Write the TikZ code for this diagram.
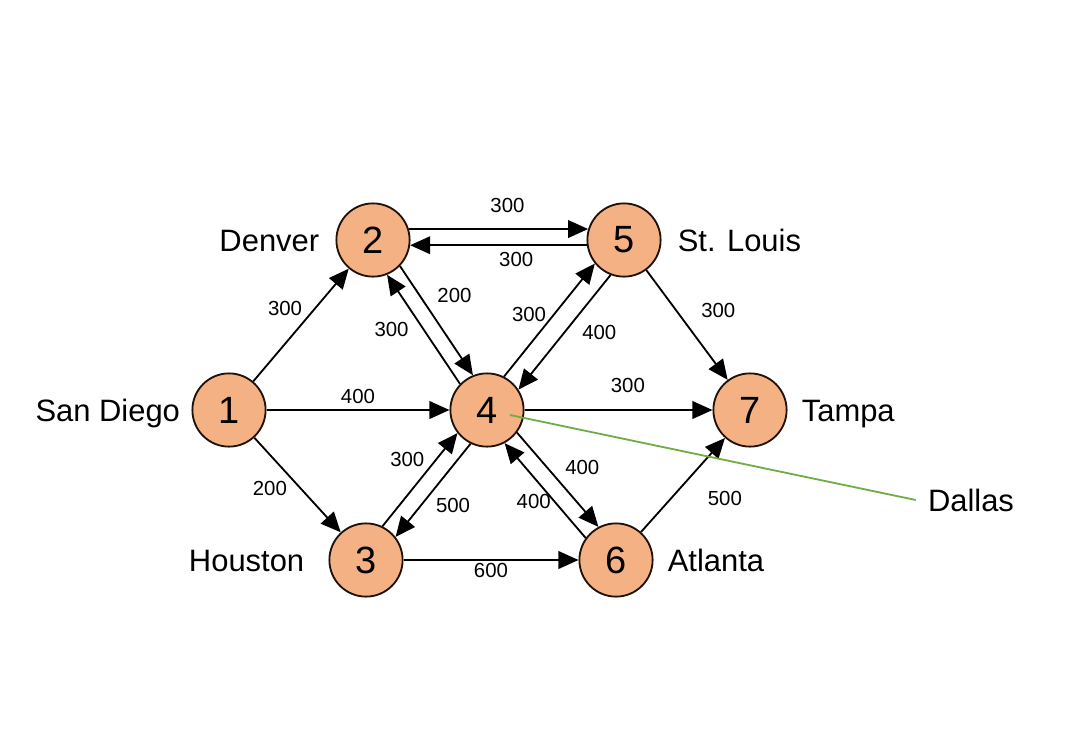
\documentclass[tikz,border=0pt]{standalone}
\usepackage{fontspec}
\setmainfont{Liberation Sans}
\usetikzlibrary{arrows.meta,positioning}
\definecolor{cityFill}{RGB}{244,177,131}
\definecolor{cityEdge}{RGB}{30,18,10}
\definecolor{pinGreen}{RGB}{112,173,71}
\tikzset{
  citynode/.style={
    circle, draw=cityEdge, line width=1.3pt, fill=cityFill,
    minimum size=1.83cm, inner sep=0pt, font=\fontsize{27}{30}\selectfont},
  cityname/.style={
    inner sep=0pt, text height=16pt, text depth=0pt,
    font=\fontsize{22}{26}\selectfont},
  wt/.style={inner sep=2pt, font=\fontsize{14.5}{17}\selectfont},
  route/.style={-{Triangle[length=0.5cm,width=0.44cm]}, line width=1.3pt, draw=black},
  pinline/.style={draw=pinGreen, line width=1.3pt}
}

\begin{document}
\begin{tikzpicture}[x=0.025cm, y=-0.025cm]
  \useasboundingbox (0,0) rectangle (1080,751);

  % cities
  \node[citynode] (n1) at (229,410) {1};
  \node[citynode] (n2) at (373,240) {2};
  \node[citynode] (n3) at (366,560) {3};
  \node[citynode] (n4) at (487,410) {4};
  \node[citynode] (n5) at (624,240) {5};
  \node[citynode] (n6) at (616,560) {6};
  \node[citynode] (n7) at (750,410) {7};

  % names
  \node[cityname, left=0.28cm of n1]  (sd)  {San Diego};
  \node[cityname, left=0.4cm of n2]   (den) {Denver};
  \node[cityname, left=0.6cm of n3]   (hou) {Houston};
  \node[cityname, right=0.4cm of n5]  (stl) {St. Louis};
  \node[cityname, right=0.35cm of n7] (tam) {Tampa};
  \node[cityname, right=0.35cm of n6] (atl) {Atlanta};
  \node[cityname] (dallas) at (971,500) {Dallas};

  % routes
  \draw[route] (n1) -- node[wt, pos=0.55, above left] {300} (n2);
  \draw[route] (n1) -- node[wt, midway, above=2pt] {400} (n4);
  \draw[route] (n1) -- node[wt, pos=0.42, below left] {200} (n3);
  \draw[route] (n2.17) -- node[wt, pos=0.55, above=9pt] {300} (n5.163);
  \draw[route] (n5.-172) -- node[wt, pos=0.4, below=2pt] {300} (n2.-8);
  \draw[route] (n2.-44) -- node[wt, pos=0.27, right=10pt] {200} (n4.112);
  \draw[route] (n4.136) -- node[wt, midway, left=8pt] {300} (n2.-68);
  \draw[route] (n4.63) -- node[wt, pos=0.55, left=3pt] {300} (n5.219);
  \draw[route] (n5.249) -- node[wt, midway, right=10pt] {400} (n4.33);
  \draw[route] (n3.64) -- node[wt, pos=0.72, left=6pt] {300} (n4.218);
  \draw[route] (n4.244) -- node[wt, pos=0.66, right=8pt] {500} (n3.38);
  \draw[route] (n4.-37) -- node[wt, pos=0.375, right=10pt] {400} (n6.118);
  \draw[route] (n6.144) -- node[wt, pos=0.385, left] {400} (n4.-62);
  \draw[route] (n4) -- node[wt, pos=0.55, above=10pt] {300} (n7);
  \draw[route] (n5) -- node[wt, pos=0.37, right=15pt] {300} (n7);
  \draw[route] (n6) -- node[wt, midway, below right=2pt and 15pt] {500} (n7);
  \draw[route] (n3) -- node[wt, midway, below] {600} (n6);

  % pointer to Dallas
  \draw[pinline] ([shift={(23,5)}]n4.center) -- ([xshift=-0.3cm]dallas.west);
\end{tikzpicture}
\end{document}
